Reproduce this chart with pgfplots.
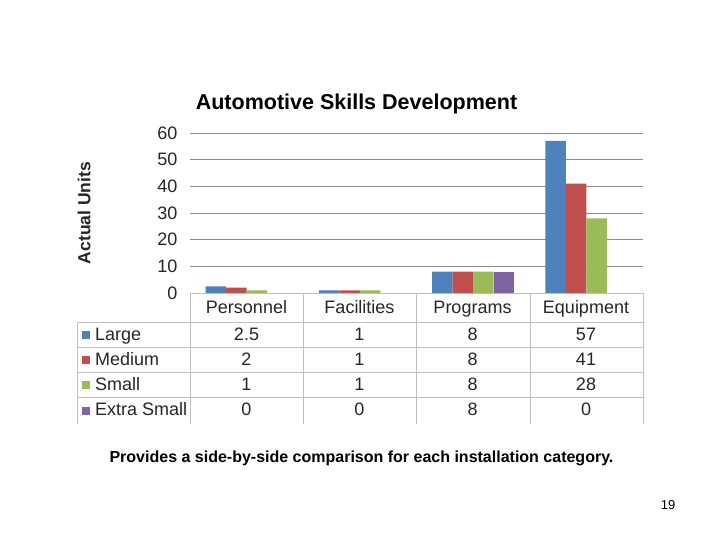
\documentclass[border=0pt]{standalone}
\usepackage{pgfplots}
\pgfplotsset{compat=1.18}
\usepackage{fontspec}
\setmainfont{Liberation Sans}
\definecolor{cL}{HTML}{4F81BD}
\definecolor{cM}{HTML}{C0504D}
\definecolor{cS}{HTML}{9BBB59}
\definecolor{cX}{HTML}{8064A2}
\definecolor{gridc}{HTML}{8C8C8C}
\definecolor{tabc}{HTML}{BFBFBF}
\definecolor{txt}{HTML}{262626}
\begin{document}
\begin{tikzpicture}[x=1pt,y=1pt]
\path[use as bounding box, fill=white] (0,0) rectangle (720,540);
\begin{axis}[
  at={(190pt,247pt)}, anchor=south west,
  scale only axis, width=453pt, height=160pt,
  xmin=0, xmax=4, ymin=0, ymax=60,
  ytick={0,10,...,60}, xtick=\empty,
  ymajorgrids, grid style={gridc, line width=0.8pt},
  axis line style={draw=none}, major tick style={draw=none},
  /pgf/number format/assume math mode=true,
  yticklabel style={font=\fontsize{18}{20}\selectfont, text=txt, xshift=-9pt},
  ybar=0pt, bar width=20.5pt,
  unbounded coords=discard,
  y filter/.expression={y==0 ? nan : y},
]
\addplot[fill=cL, draw=none] coordinates {(0.5,2.5) (1.5,1) (2.5,8) (3.5,57)};
\addplot[fill=cM, draw=none] coordinates {(0.5,2) (1.5,1) (2.5,8) (3.5,41)};
\addplot[fill=cS, draw=none] coordinates {(0.5,1) (1.5,1) (2.5,8) (3.5,28)};
\addplot[fill=cX, draw=none] coordinates {(0.5,0) (1.5,0) (2.5,8) (3.5,0)};
\end{axis}
% title and y label
\node[font=\fontsize{21.5}{26}\selectfont\bfseries, text=black] at (356.5,436) {Automotive Skills Development};
\node[font=\fontsize{17.5}{20}\selectfont\bfseries, text=txt, rotate=90] at (84,327) {Actual Units};
% data table
\begin{scope}[tabc, line width=0.8pt]
\draw (190,247) -- (643,247);
\foreach \yy in {218,193,168,143} {\draw (77,\yy) -- (643,\yy);}
\foreach \xx in {190,303,416,530,643} {\draw (\xx,247) -- (\xx,116);}
\draw (77,218) -- (77,116);
\end{scope}
\begin{scope}[font=\fontsize{18}{20}\selectfont, text=txt, every node/.style={text height=13pt, text depth=3.5pt}]
\node at (246.5,231) {Personnel};
\node at (359.5,231) {Facilities};
\node at (472.5,231) {Programs};
\node at (586,231) {Equipment};
\foreach \yy/\c/\n/\a/\b/\cc/\d in {204.5/cL/Large/2.5/1/8/57, 179.5/cM/Medium/2/1/8/41, 154.5/cS/Small/1/1/8/28, 129/cX/Extra Small/0/0/8/0} {
  \fill[\c] (82,\yy-4) rectangle (90,\yy+4);
  \node[anchor=west, inner sep=0pt] at (95,\yy) {\n};
  \node at (246.5,\yy) {\a};
  \node at (359.5,\yy) {\b};
  \node at (472.5,\yy) {\cc};
  \node at (586,\yy) {\d};
}
\end{scope}
\node[font=\fontsize{16}{19}\selectfont\bfseries] at (361.5,82) {Provides a side-by-side comparison for each installation category.};
\node[font=\fontsize{13}{15}\selectfont] at (668,35) {19};
\end{tikzpicture}
\end{document}
